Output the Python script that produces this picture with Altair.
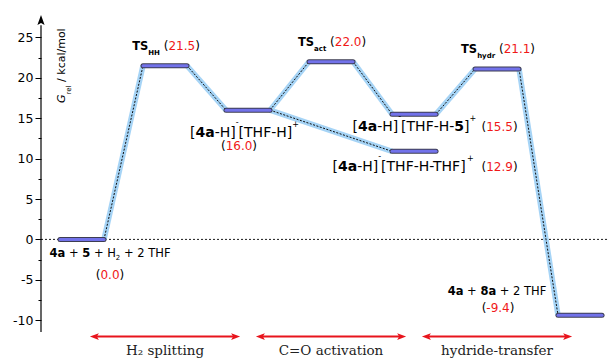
import altair as alt
import pandas as pd

# ---------------- data ----------------
level_stage = [0, 1, 2, 3, 4, 4, 5, 6]
level_energy = [0.0, 21.5, 16.0, 22.0, 15.5, 10.9, 21.1, -9.4]   # heights as drawn
conn_from = [0, 1, 2, 3, 2, 4, 6]
conn_to = [1, 2, 3, 4, 5, 6, 7]
y_major = [-10, -5, 0, 5, 10, 15, 20, 25]
y_minor = [-7.5, -2.5, 2.5, 7.5, 12.5, 17.5, 22.5]
phase_names = ["H\u2082 splitting", "C=O activation", "hydride-transfer"]
phase_start = [0, 2, 4]
phase_end = [2, 4, 6]
axis_title = [("G", "i"), ("rel", "tsub"), (" / kcal/mol", "n")]
label_level = [1, 3, 6, 0, 0, 2, 2, 4, 4, 5, 5, 7, 7]
label_text = [
    [("TS", "b"), ("HH", "bsub"), (" (", "p"), ("21.5", "num"), (")", "p")],
    [("TS", "b"), ("act", "bsub"), (" (", "p"), ("22.0", "num"), (")", "p")],
    [("TS", "b"), ("hydr", "bsub"), (" (", "p"), ("21.1", "num"), (")", "p")],
    [("4a", "b"), (" + ", "n"), ("5", "b"), (" + H", "n"), ("2", "sub"), (" + 2 THF", "n")],
    [("(", "p"), ("0.0", "num"), (")", "p")],
    [("[", "n"), ("4a", "b"), ("-H]", "n"), ("-", "supm"), ("[THF-H]", "n"), ("+", "sup")],
    [("(", "p"), ("16.0", "num"), (")", "p")],
    [("[", "n"), ("4a", "b"), ("-H]", "n"), ("-", "supm"), ("[THF-H-", "n"), ("5", "b"), ("]", "n"), ("+", "sup")],
    [("(", "p"), ("15.5", "num"), (")", "p")],
    [("[", "n"), ("4a", "b"), ("-H]", "n"), ("-", "supm"), ("[THF-H-THF]", "n"), ("+", "sup")],
    [("(", "p"), ("12.9", "num"), (")", "p")],
    [("4a", "b"), (" + ", "n"), ("8a", "b"), (" + 2 THF", "n")],
    [("(", "p"), ("-9.4", "num"), (")", "p")],
]

# ---------------- layout / style ----------------
W, H = 567, 345
XMIN, XMAX = -0.494, 6.337
YMIN, YMAX = -15.05, 27.65
SX = W / (XMAX - XMIN)
SY = H / (YMAX - YMIN)
HALF = 0.265
RED = "#f01818"
FONT = "DejaVu Sans"

# (align, dx px, dy px (baseline, +down), base font size)
LABEL_LAYOUT = [
    ("center", 1, -15.5, 11.5),
    ("center", 1, -15.5, 11.5),
    ("center", 1, -15.5, 11.5),
    ("center", 28, 18, 11.5),
    ("center", 28, 39.4, 12),
    ("left", -58, 27, 14),
    ("center", -9, 40, 12),
    ("left", -61.5, 17, 14),
    ("left", 67.5, 17, 12),
    ("left", -81.5, 20, 14),
    ("left", 67.5, 20, 12),
    ("center", -83, -20, 11.5),
    ("center", -82, -3.3, 12),
]

STYLE = {
    "n": (False, False, None, 0, "black"),
    "b": (True, False, None, 0, "black"),
    "i": (False, True, None, 0, "black"),
    "p": (False, False, 12, 0, "black"),
    "num": (False, False, 12, 0, RED),
    "sub": (False, False, 7, 3, "black"),
    "bsub": (True, False, 7, 5, "black"),
    "sup": (False, False, 8, -10, "black"),
    "supm": (False, False, 8, -12, "black"),
    "tsub": (False, False, 7, 6, "black"),
}

W_REG = {" ": .318, ".": .318, "(": .390, ")": .390, "[": .390, "]": .390, "-": .361,
         "+": .838, "/": .337, "T": .611, "H": .752, "F": .575, "G": .775, "S": .635,
         "a": .613, "c": .550, "e": .615, "k": .579, "l": .278, "m": .974, "o": .612,
         "r": .411, "t": .392, "h": .634, "y": .592, "d": .635}
W_BOLD = {" ": .348, "a": .675, "T": .682, "S": .720, "H": .838, "c": .593, "t": .478,
          "h": .712, "y": .652, "d": .716, "r": .493}
for dgt in "0123456789":
    W_REG[dgt] = .636
    W_BOLD[dgt] = .696


def tw(s, size, bold):
    tab = W_BOLD if bold else W_REG
    return sum(tab.get(c, W_REG.get(c, 0.6)) for c in s) * size


def run_pieces(segments, base):
    x = 0.0
    out = []
    for text, kind in segments:
        bold, italic, size, shift, color = STYLE[kind]
        size = size or base
        core = text.strip(" ")
        lead = len(text) - len(text.lstrip(" "))
        trail = len(text) - len(text.rstrip(" "))
        sp = tw(" ", size, bold)
        x += lead * sp
        out.append(dict(text=core, off=x, shift=shift, size=size, bold=bold,
                        italic=italic, color=color))
        x += tw(core, size, bold) + trail * sp
    return out, x


rows = []
for i, segs in enumerate(label_text):
    lvl = label_level[i]
    st, en = level_stage[lvl], level_energy[lvl]
    align, dx, dy, base = LABEL_LAYOUT[i]
    pieces, total = run_pieces(segs, base)
    start = dx - total / 2 if align == "center" else dx
    for p in pieces:
        rows.append(dict(x=st + (start + p["off"]) / SX, y=en - (dy + p["shift"]) / SY,
                         t=p["text"], size=p["size"], color=p["color"], angle=0,
                         bold=p["bold"], italic=p["italic"]))

# rotated y-axis title
TITLE_Y0 = 16.87
pieces, total = run_pieces(axis_title, 11)
for p in pieces:
    rows.append(dict(x=XMIN + (24 + p["shift"]) / SX, y=TITLE_Y0 + p["off"] / SY,
                     t=p["text"], size=p["size"], color=p["color"], angle=270,
                     bold=p["bold"], italic=p["italic"]))
text_df = pd.DataFrame(rows)

levels = pd.DataFrame({"stage": level_stage, "E": level_energy})
levels["x1"] = levels["stage"] - HALF
levels["x2"] = levels["stage"] + HALF

conns = pd.DataFrame({
    "x1": [level_stage[a] + HALF for a in conn_from],
    "y1": [level_energy[a] for a in conn_from],
    "x2": [level_stage[b] - HALF for b in conn_to],
    "y2": [level_energy[b] for b in conn_to],
})

ticks = sorted(y_major + y_minor)
phases = pd.DataFrame({"name": phase_names, "s": phase_start, "e": phase_end})
ARROW_INSET = 0.095
phases["a1"] = phases["s"] + ARROW_INSET
phases["a2"] = phases["e"] - ARROW_INSET
phases["h1"] = phases["a1"] + 4.5 / SX
phases["h2"] = phases["a2"] - 4.5 / SX
phases["mid"] = (phases["s"] + phases["e"]) / 2
phases["ya"] = -12.03
phases["yl"] = -14.32

XS = alt.Scale(domain=[XMIN, XMAX], nice=False, zero=False)
YS = alt.Scale(domain=[YMIN, YMAX], nice=False, zero=False)
YAXIS = alt.Axis(values=ticks, domain=False, grid=False, title=None,
                 labelFont=FONT, labelFontSize=12.5, labelColor="black",
                 tickColor="black", tickWidth=1,
                 tickSize={"condition": {"test": "datum.value % 5 === 0", "value": 6}, "value": 3},
                 labelPadding=2, labelOverlap=False,
                 labelExpr="datum.value % 5 === 0 ? '' + datum.value : ''")


def X(f):
    return alt.X(f"{f}:Q", scale=XS, axis=None)


def Y(f):
    return alt.Y(f"{f}:Q", scale=YS, axis=YAXIS)


frame = pd.DataFrame({"x": [XMIN], "xe": [XMAX], "y0": [0.0], "yb": [-11.45], "yt": [26.5],
                      "ya": [27.14]})

zero_line = alt.Chart(frame).mark_rule(color="black", strokeWidth=0.9, strokeDash=[2, 2]).encode(
    x=X("x"), x2="xe", y=Y("y0"))
axis_line = alt.Chart(frame).mark_rule(color="black", strokeWidth=1.2).encode(
    x=X("x"), y=Y("yb"), y2="yt")
axis_arrow = alt.Chart(frame).mark_point(
    shape="M0,-1L0.72,1L0,0.6L-0.72,1Z", filled=True, color="black", size=100, opacity=1
).encode(x=X("x"), y=Y("ya"))

conn_glow = alt.Chart(conns).mark_rule(color="#a6d4f6", strokeWidth=5.5).encode(
    x=X("x1"), y=Y("y1"), x2="x2", y2="y2")
conn_dash = alt.Chart(conns).mark_rule(color="#111111", strokeWidth=1, strokeDash=[2, 1.5]).encode(
    x=X("x1"), y=Y("y1"), x2="x2", y2="y2")

bar_out = alt.Chart(levels).mark_rule(color="#3d3d52", strokeWidth=5, strokeCap="round").encode(
    x=X("x1"), x2="x2", y=Y("E"))
bar_in = alt.Chart(levels).mark_rule(color="#7272ea", strokeWidth=3, strokeCap="round").encode(
    x=X("x1"), x2="x2", y=Y("E"))

arrow_line = alt.Chart(phases).mark_rule(color="#e8141c", strokeWidth=2).encode(
    x=X("h1"), x2="h2", y=Y("ya"))
head_l = alt.Chart(phases).mark_point(
    shape="M-1,0L1,-0.74L0.55,0L1,0.74Z", filled=True, color="#e8141c", size=81, opacity=1
).encode(x=X("h1"), y=Y("ya"))
head_r = alt.Chart(phases).mark_point(
    shape="M1,0L-1,-0.74L-0.55,0L-1,0.74Z", filled=True, color="#e8141c", size=81, opacity=1
).encode(x=X("h2"), y=Y("ya"))
phase_text = alt.Chart(phases).mark_text(
    font="DejaVu Serif", fontSize=13.5, color="#222222", align="center", baseline="alphabetic"
).encode(x=X("mid"), y=Y("yl"), text="name:N")


def text_layer(df, weight, style):
    return alt.Chart(df).mark_text(
        align="left", baseline="alphabetic", font=FONT, fontWeight=weight, fontStyle=style
    ).encode(
        x=X("x"), y=Y("y"), text="t:N",
        color=alt.Color("color:N", scale=None),
        size=alt.Size("size:Q", scale=None),
        angle=alt.Angle("angle:Q", scale=None),
    )


t_norm = text_layer(text_df[(~text_df.bold) & (~text_df.italic)], "normal", "normal")
t_bold = text_layer(text_df[text_df.bold], "bold", "normal")
t_ital = text_layer(text_df[text_df.italic], "normal", "italic")

chart = alt.layer(
    zero_line, axis_line, axis_arrow, conn_glow, conn_dash, bar_out, bar_in,
    arrow_line, head_l, head_r, phase_text, t_norm, t_bold, t_ital
).properties(
    width=W, height=H,
    padding={"left": 33, "top": 8, "right": 0, "bottom": 0},
    autosize="none", background="white",
).configure_view(stroke=None)

chart.save("out.html", embed_options={"renderer": "svg", "actions": False})
